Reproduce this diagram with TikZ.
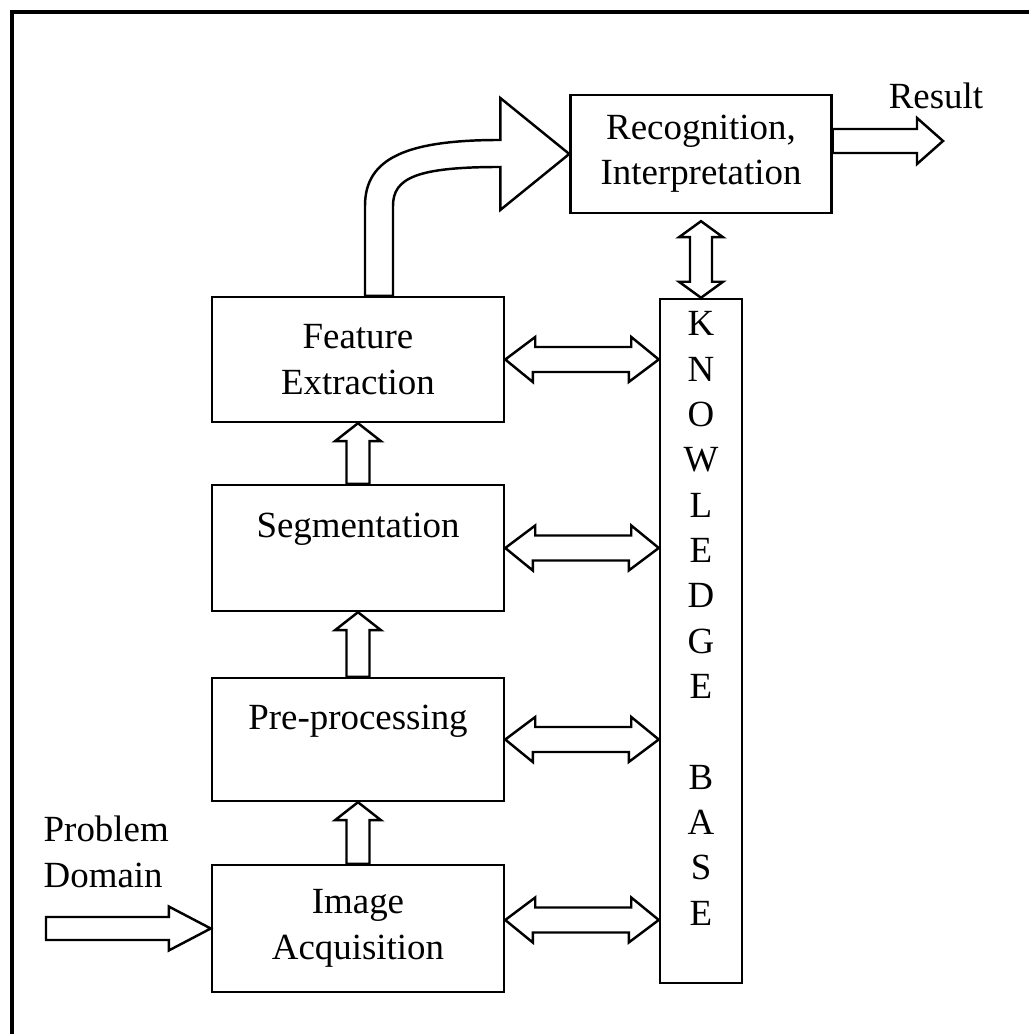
\documentclass[tikz,border=0pt]{standalone}
\usepackage{fontspec}
\setmainfont{Liberation Serif}

\begin{document}
\begin{tikzpicture}[
    every node/.style={font=\fontsize{10.5}{12.9}\selectfont, align=center},
    block/.style={draw, line width=0.7pt, minimum width=2.92cm, minimum height=1.25cm},
    barrow/.style={draw, line width=0.7pt, fill=white, line join=miter},
    frame/.style={line width=1.2pt}
]
\useasboundingbox (0,0) rectangle (10.29,10.34);

% Frame
\draw[frame] (0.12,0) -- (0.12,10.22) -- (10.29,10.22);

% Nodes
\node[block, minimum width=2.61cm, minimum height=1.18cm] (recog) at (7.01,8.80) {Recognition,\\Interpretation};
\node[block] (feat) at (3.58,6.745) {Feature\\Extraction};
\node[block, minimum height=1.26cm] (seg) at (3.58,4.86) {Segmentation\\~};
\node[block, minimum height=1.23cm] (pre) at (3.58,2.945) {Pre-processing\\~};
\node[block, minimum height=1.27cm] (img) at (3.58,1.055) {Image\\Acquisition};
\node[block, minimum width=0.82cm, minimum height=6.84cm, inner sep=0pt] (kb) at (7.01,3.93)
    {K\\N\\O\\W\\L\\E\\D\\G\\E\\~\\B\\A\\S\\E\\~};

\node (result) at (9.36,9.385) {Result};
\node[anchor=west, align=left, inner sep=0pt] (domain) at (0.43,1.82) {Problem\\Domain};

\coordinate (out) at (9.43,8.93);
\coordinate (outs) at (recog.east |- out);
\coordinate (src) at (0.46,1.055);
\coordinate (imgr) at ([yshift=0.85mm]img.east);

% Arrows up the chain
\draw[barrow] (pre.south) -- ++(-0.23,-0.18) -- ++(0.115,0) -- ([xshift=-1.15mm]img.north)
    -- ([xshift=1.15mm]img.north) -- ([xshift=1.15mm,yshift=-1.8mm]pre.south) -- ++(0.115,0) -- cycle;
\draw[barrow] (seg.south) -- ++(-0.23,-0.18) -- ++(0.115,0) -- ([xshift=-1.15mm]pre.north)
    -- ([xshift=1.15mm]pre.north) -- ([xshift=1.15mm,yshift=-1.8mm]seg.south) -- ++(0.115,0) -- cycle;
\draw[barrow] (feat.south) -- ++(-0.23,-0.18) -- ++(0.115,0) -- ([xshift=-1.15mm]seg.north)
    -- ([xshift=1.15mm]seg.north) -- ([xshift=1.15mm,yshift=-1.8mm]feat.south) -- ++(0.115,0) -- cycle;

% Bent arrow to recognition
\draw[barrow] ([xshift=0.7mm]feat.north) -- ++(0,0.90)
    .. controls +(0,0.48) and +(-0.93,0) .. ([xshift=-6.9mm,yshift=1.4mm]recog.west)
    -- ++(0,0.42) -- (recog.west) -- ++(-0.69,-0.56) -- ++(0,0.43)
    .. controls +(-0.83,0) and +(0,0.28) .. ([xshift=3.5mm,yshift=9mm]feat.north)
    -- ([xshift=3.5mm]feat.north) -- cycle;

% Knowledge base links
\draw[barrow] ([yshift=-0.7mm]recog.south) -- ++(0.22,-0.16) -- ++(-0.11,0)
    -- ([xshift=1.1mm,yshift=1.6mm]kb.north) -- ++(0.11,0) -- (kb.north) -- ++(-0.22,0.16)
    -- ++(0.11,0) -- ([xshift=-1.1mm,yshift=-2.3mm]recog.south) -- ++(-0.11,0) -- cycle;
\draw[barrow] (feat.east) -- ++(0.30,0.225) -- ++(0,-0.10) -- ++(0.96,0) -- ++(0,0.10) -- (feat.east -| kb.west)
    -- ++(-0.30,-0.225) -- ++(0,0.10) -- ++(-0.96,0) -- ++(0,-0.10) -- cycle;
\draw[barrow] (seg.east) -- ++(0.30,0.225) -- ++(0,-0.10) -- ++(0.96,0) -- ++(0,0.10) -- (seg.east -| kb.west)
    -- ++(-0.30,-0.225) -- ++(0,0.10) -- ++(-0.96,0) -- ++(0,-0.10) -- cycle;
\draw[barrow] (pre.east) -- ++(0.30,0.225) -- ++(0,-0.10) -- ++(0.96,0) -- ++(0,0.10) -- (pre.east -| kb.west)
    -- ++(-0.30,-0.225) -- ++(0,0.10) -- ++(-0.96,0) -- ++(0,-0.10) -- cycle;
\draw[barrow] (imgr) -- ++(0.30,0.225) -- ++(0,-0.10) -- ++(0.96,0) -- ++(0,0.10) -- (imgr -| kb.west)
    -- ++(-0.30,-0.225) -- ++(0,0.10) -- ++(-0.96,0) -- ++(0,-0.10) -- cycle;

% In and out
\draw[barrow] (img.west) -- ++(-0.42,0.22) -- ++(0,-0.105) -- ([yshift=1.15mm]src)
    -- ([yshift=-1.15mm]src) -- ([xshift=-4.2mm,yshift=-1.15mm]img.west) -- ++(0,-0.105) -- cycle;
\draw[barrow] ([yshift=1.2mm]outs) -- ([xshift=-2.6mm,yshift=1.2mm]out) -- ++(0,0.11) -- (out)
    -- ++(-0.26,-0.23) -- ++(0,0.11) -- ([yshift=-1.2mm]outs) -- cycle;

\end{tikzpicture}
\end{document}
